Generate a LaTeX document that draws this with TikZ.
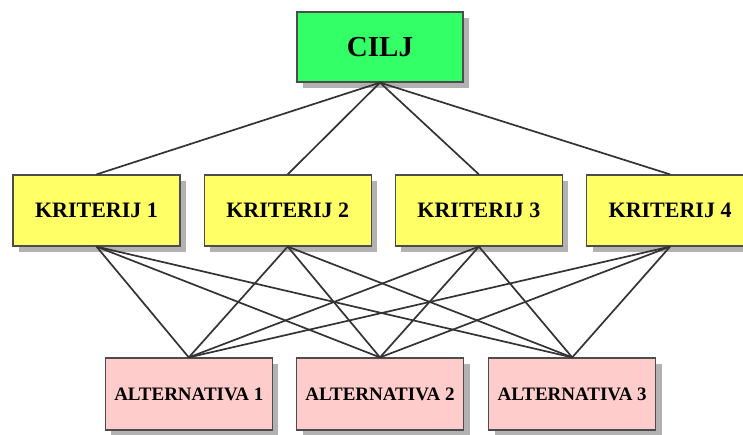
\documentclass[tikz,border=0pt]{standalone}
\usepackage{fontspec}
\setmainfont{Liberation Serif}
\usetikzlibrary{positioning,shadows}

\definecolor{ciljgreen}{RGB}{51,255,102}
\definecolor{krityellow}{RGB}{255,255,102}
\definecolor{altpink}{RGB}{255,204,204}

\begin{document}
\begin{tikzpicture}[x=1pt,y=-1pt,-,semithick,
                    box/.style={draw=black!70,line width=1.2pt,inner sep=0pt,
                      drop shadow={shadow xshift=6pt,shadow yshift=-6pt,fill=black!30,opacity=1}},
                    ciljbox/.style={box,fill=ciljgreen,minimum width=166pt,minimum height=70pt,
                      font=\fontsize{29}{30}\selectfont\bfseries},
                    kritbox/.style={box,fill=krityellow,minimum width=167pt,minimum height=71pt,
                      font=\fontsize{22}{24}\selectfont\bfseries},
                    altbox/.style={box,fill=altpink,minimum width=167pt,minimum height=72pt,
                      font=\fontsize{19}{21}\selectfont\bfseries},
                    every edge/.style={draw=black!80,line width=1.7pt}]

  \useasboundingbox (0,0) rectangle (743,434);

  \node [ciljbox] (cilj) at (380,47) {CILJ};

  \node [kritbox] (k1) at (96.5,210.5) {KRITERIJ 1};
  \node [kritbox] (k2) [right=23pt of k1] {KRITERIJ 2};
  \node [kritbox] (k3) [right=23pt of k2] {KRITERIJ 3};
  \node [kritbox] (k4) [right=23pt of k3] {KRITERIJ 4};

  \node [altbox] (a2) at (380,394) {ALTERNATIVA 2};
  \node [altbox] (a1) [left=23pt of a2] {ALTERNATIVA 1};
  \node [altbox] (a3) [right=24pt of a2] {ALTERNATIVA 3};

  \path (cilj.south) edge (k1.north) edge (k2.north) edge (k3.north) edge (k4.north);

  \path (k1.south) edge (a1.north) edge (a2.north) edge (a3.north);
  \path (k2.south) edge (a1.north) edge (a2.north) edge (a3.north);
  \path (k3.south) edge (a1.north) edge (a2.north) edge (a3.north);
  \path (k4.south) edge (a1.north) edge (a2.north) edge (a3.north);
\end{tikzpicture}
\end{document}
